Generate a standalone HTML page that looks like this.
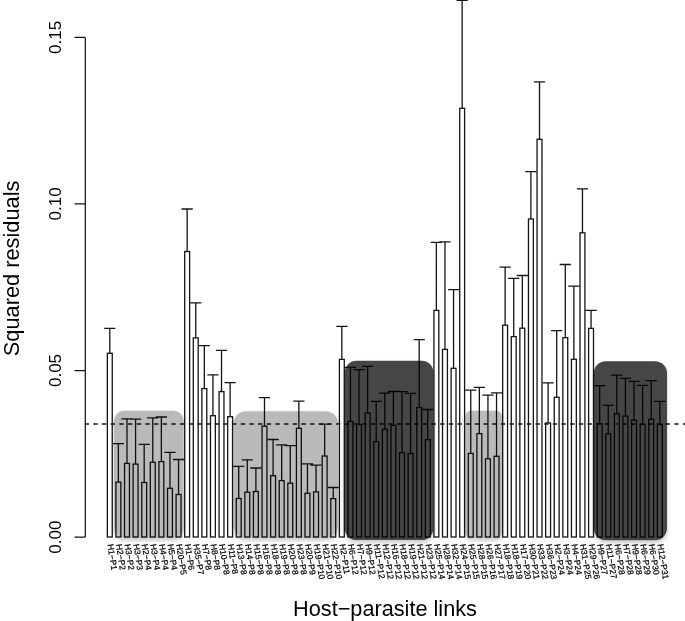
<!DOCTYPE html>
<html><head><meta charset="utf-8"><style>
html,body{margin:0;padding:0;background:#fff;}
body{width:685px;height:621px;overflow:hidden;}
svg{display:block;filter:grayscale(1);}
text{font-family:"Liberation Sans",sans-serif;fill:#000;}
</style></head><body>
<svg width="685" height="621" viewBox="0 0 685 621">
<defs>
<filter id="blur" x="-30%" y="-30%" width="160%" height="160%">
<feGaussianBlur stdDeviation="2"/>
</filter>
<filter id="soft" x="-10%" y="-10%" width="120%" height="120%">
<feGaussianBlur stdDeviation="0.45"/>
</filter>
</defs>
<rect width="685" height="621" fill="#fff"/>

<g fill="#fff" stroke="#141414" stroke-width="1.3">
<rect x="107.35" y="353.30" width="4.90" height="183.70"/>
<rect x="115.94" y="482.10" width="4.90" height="54.90"/>
<rect x="124.54" y="463.40" width="4.90" height="73.60"/>
<rect x="133.13" y="464.10" width="4.90" height="72.90"/>
<rect x="141.73" y="482.50" width="4.90" height="54.50"/>
<rect x="150.32" y="462.30" width="4.90" height="74.70"/>
<rect x="158.91" y="461.60" width="4.90" height="75.40"/>
<rect x="167.51" y="488.30" width="4.90" height="48.70"/>
<rect x="176.10" y="494.50" width="4.90" height="42.50"/>
<rect x="184.70" y="251.50" width="4.90" height="285.50"/>
<rect x="193.29" y="337.90" width="4.90" height="199.10"/>
<rect x="201.88" y="388.60" width="4.90" height="148.40"/>
<rect x="210.48" y="415.70" width="4.90" height="121.30"/>
<rect x="219.07" y="391.60" width="4.90" height="145.40"/>
<rect x="227.67" y="416.70" width="4.90" height="120.30"/>
<rect x="236.26" y="498.50" width="4.90" height="38.50"/>
<rect x="244.85" y="492.20" width="4.90" height="44.80"/>
<rect x="253.45" y="491.50" width="4.90" height="45.50"/>
<rect x="262.04" y="426.20" width="4.90" height="110.80"/>
<rect x="270.64" y="475.70" width="4.90" height="61.30"/>
<rect x="279.23" y="480.60" width="4.90" height="56.40"/>
<rect x="287.82" y="483.20" width="4.90" height="53.80"/>
<rect x="296.42" y="428.30" width="4.90" height="108.70"/>
<rect x="305.01" y="493.30" width="4.90" height="43.70"/>
<rect x="313.61" y="491.90" width="4.90" height="45.10"/>
<rect x="322.20" y="456.00" width="4.90" height="81.00"/>
<rect x="330.79" y="498.60" width="4.90" height="38.40"/>
<rect x="339.39" y="359.40" width="4.90" height="177.60"/>
<rect x="347.98" y="421.40" width="4.90" height="115.60"/>
<rect x="356.58" y="424.50" width="4.90" height="112.50"/>
<rect x="365.17" y="413.00" width="4.90" height="124.00"/>
<rect x="373.76" y="441.60" width="4.90" height="95.40"/>
<rect x="382.36" y="429.20" width="4.90" height="107.80"/>
<rect x="390.95" y="425.40" width="4.90" height="111.60"/>
<rect x="399.55" y="452.70" width="4.90" height="84.30"/>
<rect x="408.14" y="453.50" width="4.90" height="83.50"/>
<rect x="416.73" y="407.50" width="4.90" height="129.50"/>
<rect x="425.33" y="439.60" width="4.90" height="97.40"/>
<rect x="433.92" y="310.40" width="4.90" height="226.60"/>
<rect x="442.52" y="349.40" width="4.90" height="187.60"/>
<rect x="451.11" y="368.30" width="4.90" height="168.70"/>
<rect x="459.70" y="108.30" width="4.90" height="428.70"/>
<rect x="468.30" y="453.40" width="4.90" height="83.60"/>
<rect x="476.89" y="433.60" width="4.90" height="103.40"/>
<rect x="485.49" y="458.80" width="4.90" height="78.20"/>
<rect x="494.08" y="456.30" width="4.90" height="80.70"/>
<rect x="502.67" y="325.20" width="4.90" height="211.80"/>
<rect x="511.27" y="336.60" width="4.90" height="200.40"/>
<rect x="519.86" y="328.20" width="4.90" height="208.80"/>
<rect x="528.46" y="219.00" width="4.90" height="318.00"/>
<rect x="537.05" y="139.30" width="4.90" height="397.70"/>
<rect x="545.64" y="423.00" width="4.90" height="114.00"/>
<rect x="554.24" y="397.30" width="4.90" height="139.70"/>
<rect x="562.83" y="337.70" width="4.90" height="199.30"/>
<rect x="571.43" y="359.30" width="4.90" height="177.70"/>
<rect x="580.02" y="232.80" width="4.90" height="304.20"/>
<rect x="588.61" y="328.40" width="4.90" height="208.60"/>
<rect x="597.21" y="423.70" width="4.90" height="113.30"/>
<rect x="605.80" y="433.90" width="4.90" height="103.10"/>
<rect x="614.40" y="413.80" width="4.90" height="123.20"/>
<rect x="622.99" y="416.10" width="4.90" height="120.90"/>
<rect x="631.58" y="420.10" width="4.90" height="116.90"/>
<rect x="640.18" y="424.30" width="4.90" height="112.70"/>
<rect x="648.77" y="419.30" width="4.90" height="117.70"/>
<rect x="657.37" y="424.50" width="4.90" height="112.50"/>
</g>
<path d="M109.80 353.30V328.40M104.20 328.40H115.40M118.39 482.10V443.60M112.79 443.60H123.99M126.99 463.40V418.80M121.39 418.80H132.59M135.58 464.10V419.20M129.98 419.20H141.18M144.18 482.50V444.30M138.58 444.30H149.78M152.77 462.30V417.90M147.17 417.90H158.37M161.36 461.60V417.00M155.76 417.00H166.96M169.96 488.30V452.40M164.36 452.40H175.56M178.55 494.50V459.50M172.95 459.50H184.15M187.15 251.50V209.00M181.55 209.00H192.75M195.74 337.90V302.90M190.14 302.90H201.34M204.33 388.60V345.70M198.73 345.70H209.93M212.93 415.70V374.80M207.33 374.80H218.53M221.52 391.60V350.30M215.92 350.30H227.12M230.12 416.70V382.60M224.52 382.60H235.72M238.71 498.50V466.30M233.11 466.30H244.31M247.30 492.20V459.80M241.70 459.80H252.90M255.90 491.50V468.00M250.30 468.00H261.50M264.49 426.20V397.70M258.89 397.70H270.09M273.09 475.70V439.50M267.49 439.50H278.69M281.68 480.60V444.90M276.08 444.90H287.28M290.27 483.20V445.60M284.67 445.60H295.87M298.87 428.30V401.10M293.27 401.10H304.47M307.46 493.30V463.80M301.86 463.80H313.06M316.06 491.90V465.20M310.46 465.20H321.66M324.65 456.00V424.20M319.05 424.20H330.25M333.24 498.60V487.50M327.64 487.50H338.84M341.84 359.40V326.40M336.24 326.40H347.44M350.43 421.40V367.40M344.83 367.40H356.03M359.03 424.50V369.70M353.43 369.70H364.63M367.62 413.00V366.40M362.02 366.40H373.22M376.21 441.60V401.40M370.61 401.40H381.81M384.81 429.20V393.20M379.21 393.20H390.41M393.40 425.40V391.50M387.80 391.50H399.00M402.00 452.70V391.60M396.40 391.60H407.60M410.59 453.50V393.30M404.99 393.30H416.19M419.18 407.50V339.70M413.58 339.70H424.78M427.78 439.60V409.50M422.18 409.50H433.38M436.37 310.40V242.40M430.77 242.40H441.97M444.97 349.40V241.90M439.37 241.90H450.57M453.56 368.30V289.60M447.96 289.60H459.16M462.15 108.30V0.30M456.55 0.30H467.75M470.75 453.40V390.10M465.15 390.10H476.35M479.34 433.60V387.40M473.74 387.40H484.94M487.94 458.80V395.20M482.34 395.20H493.54M496.53 456.30V392.90M490.93 392.90H502.13M505.12 325.20V267.10M499.52 267.10H510.72M513.72 336.60V278.40M508.12 278.40H519.32M522.31 328.20V275.50M516.71 275.50H527.91M530.91 219.00V171.70M525.31 171.70H536.51M539.50 139.30V81.90M533.90 81.90H545.10M548.09 423.00V382.90M542.49 382.90H553.69M556.69 397.30V330.60M551.09 330.60H562.29M565.28 337.70V264.50M559.68 264.50H570.88M573.88 359.30V286.10M568.28 286.10H579.48M582.47 232.80V188.80M576.87 188.80H588.07M591.06 328.40V310.30M585.46 310.30H596.66M599.66 423.70V385.60M594.06 385.60H605.26M608.25 433.90V405.40M602.65 405.40H613.85M616.85 413.80V375.10M611.25 375.10H622.45M625.44 416.10V378.40M619.84 378.40H631.04M634.03 420.10V381.30M628.43 381.30H639.63M642.63 424.30V385.40M637.03 385.40H648.23M651.22 419.30V380.60M645.62 380.60H656.82M659.82 424.50V401.30M654.22 401.30H665.42" stroke="#141414" stroke-width="1.3" fill="none"/>
<path d="M84.7 424H685" stroke="#141414" stroke-width="1.3" stroke-dasharray="4.3 4.37" fill="none"/>
<path d="M85.3 37.4V537.1M74.5 37.4H85.3M74.5 203.9H85.3M74.5 370.5H85.3M74.5 537.1H85.3" stroke="#141414" stroke-width="1.25" fill="none"/>
<text transform="translate(60.6 537.1) rotate(-90)" font-size="17" text-anchor="middle">0.00</text>
<text transform="translate(60.6 370.5) rotate(-90)" font-size="17" text-anchor="middle">0.05</text>
<text transform="translate(60.6 203.9) rotate(-90)" font-size="17" text-anchor="middle">0.10</text>
<text transform="translate(60.6 37.4) rotate(-90)" font-size="17" text-anchor="middle">0.15</text>
<text transform="translate(18.9 268.4) rotate(-90)" font-size="21.8" text-anchor="middle">Squared residuals</text>
<text x="385" y="615.7" font-size="21.7" text-anchor="middle">Host−parasite links</text>
<text transform="translate(107.40 544.5) rotate(81)" font-size="8.5" stroke="#000" stroke-width="0.22">H1−P1</text>
<text transform="translate(115.99 544.5) rotate(81)" font-size="8.5" stroke="#000" stroke-width="0.22">H2−P2</text>
<text transform="translate(124.59 544.5) rotate(81)" font-size="8.5" stroke="#000" stroke-width="0.22">H3−P2</text>
<text transform="translate(133.18 544.5) rotate(81)" font-size="8.5" stroke="#000" stroke-width="0.22">H3−P3</text>
<text transform="translate(141.78 544.5) rotate(81)" font-size="8.5" stroke="#000" stroke-width="0.22">H2−P4</text>
<text transform="translate(150.37 544.5) rotate(81)" font-size="8.5" stroke="#000" stroke-width="0.22">H3−P4</text>
<text transform="translate(158.96 544.5) rotate(81)" font-size="8.5" stroke="#000" stroke-width="0.22">H4−P4</text>
<text transform="translate(167.56 544.5) rotate(81)" font-size="8.5" stroke="#000" stroke-width="0.22">H5−P4</text>
<text transform="translate(176.15 544.5) rotate(81)" font-size="8.5" stroke="#000" stroke-width="0.22">H20−P5</text>
<text transform="translate(184.75 544.5) rotate(81)" font-size="8.5" stroke="#000" stroke-width="0.22">H1−P6</text>
<text transform="translate(193.34 544.5) rotate(81)" font-size="8.5" stroke="#000" stroke-width="0.22">H35−P7</text>
<text transform="translate(201.93 544.5) rotate(81)" font-size="8.5" stroke="#000" stroke-width="0.22">H7−P8</text>
<text transform="translate(210.53 544.5) rotate(81)" font-size="8.5" stroke="#000" stroke-width="0.22">H8−P8</text>
<text transform="translate(219.12 544.5) rotate(81)" font-size="8.5" stroke="#000" stroke-width="0.22">H10−P8</text>
<text transform="translate(227.72 544.5) rotate(81)" font-size="8.5" stroke="#000" stroke-width="0.22">H11−P8</text>
<text transform="translate(236.31 544.5) rotate(81)" font-size="8.5" stroke="#000" stroke-width="0.22">H13−P8</text>
<text transform="translate(244.90 544.5) rotate(81)" font-size="8.5" stroke="#000" stroke-width="0.22">H14−P8</text>
<text transform="translate(253.50 544.5) rotate(81)" font-size="8.5" stroke="#000" stroke-width="0.22">H15−P8</text>
<text transform="translate(262.09 544.5) rotate(81)" font-size="8.5" stroke="#000" stroke-width="0.22">H16−P8</text>
<text transform="translate(270.69 544.5) rotate(81)" font-size="8.5" stroke="#000" stroke-width="0.22">H18−P8</text>
<text transform="translate(279.28 544.5) rotate(81)" font-size="8.5" stroke="#000" stroke-width="0.22">H19−P8</text>
<text transform="translate(287.87 544.5) rotate(81)" font-size="8.5" stroke="#000" stroke-width="0.22">H20−P8</text>
<text transform="translate(296.47 544.5) rotate(81)" font-size="8.5" stroke="#000" stroke-width="0.22">H23−P8</text>
<text transform="translate(305.06 544.5) rotate(81)" font-size="8.5" stroke="#000" stroke-width="0.22">H20−P9</text>
<text transform="translate(313.66 544.5) rotate(81)" font-size="8.5" stroke="#000" stroke-width="0.22">H19−P10</text>
<text transform="translate(322.25 544.5) rotate(81)" font-size="8.5" stroke="#000" stroke-width="0.22">H21−P10</text>
<text transform="translate(330.84 544.5) rotate(81)" font-size="8.5" stroke="#000" stroke-width="0.22">H22−P10</text>
<text transform="translate(339.44 544.5) rotate(81)" font-size="8.5" stroke="#000" stroke-width="0.22">H2−P11</text>
<text transform="translate(348.03 544.5) rotate(81)" font-size="8.5" stroke="#000" stroke-width="0.22">H6−P12</text>
<text transform="translate(356.63 544.5) rotate(81)" font-size="8.5" stroke="#000" stroke-width="0.22">H7−P12</text>
<text transform="translate(365.22 544.5) rotate(81)" font-size="8.5" stroke="#000" stroke-width="0.22">H9−P12</text>
<text transform="translate(373.81 544.5) rotate(81)" font-size="8.5" stroke="#000" stroke-width="0.22">H11−P12</text>
<text transform="translate(382.41 544.5) rotate(81)" font-size="8.5" stroke="#000" stroke-width="0.22">H12−P12</text>
<text transform="translate(391.00 544.5) rotate(81)" font-size="8.5" stroke="#000" stroke-width="0.22">H16−P12</text>
<text transform="translate(399.60 544.5) rotate(81)" font-size="8.5" stroke="#000" stroke-width="0.22">H18−P12</text>
<text transform="translate(408.19 544.5) rotate(81)" font-size="8.5" stroke="#000" stroke-width="0.22">H19−P12</text>
<text transform="translate(416.78 544.5) rotate(81)" font-size="8.5" stroke="#000" stroke-width="0.22">H21−P12</text>
<text transform="translate(425.38 544.5) rotate(81)" font-size="8.5" stroke="#000" stroke-width="0.22">H23−P12</text>
<text transform="translate(433.97 544.5) rotate(81)" font-size="8.5" stroke="#000" stroke-width="0.22">H25−P14</text>
<text transform="translate(442.57 544.5) rotate(81)" font-size="8.5" stroke="#000" stroke-width="0.22">H28−P14</text>
<text transform="translate(451.16 544.5) rotate(81)" font-size="8.5" stroke="#000" stroke-width="0.22">H32−P14</text>
<text transform="translate(459.75 544.5) rotate(81)" font-size="8.5" stroke="#000" stroke-width="0.22">H24−P15</text>
<text transform="translate(468.35 544.5) rotate(81)" font-size="8.5" stroke="#000" stroke-width="0.22">H25−P15</text>
<text transform="translate(476.94 544.5) rotate(81)" font-size="8.5" stroke="#000" stroke-width="0.22">H28−P15</text>
<text transform="translate(485.54 544.5) rotate(81)" font-size="8.5" stroke="#000" stroke-width="0.22">H26−P16</text>
<text transform="translate(494.13 544.5) rotate(81)" font-size="8.5" stroke="#000" stroke-width="0.22">H27−P17</text>
<text transform="translate(502.72 544.5) rotate(81)" font-size="8.5" stroke="#000" stroke-width="0.22">H18−P18</text>
<text transform="translate(511.32 544.5) rotate(81)" font-size="8.5" stroke="#000" stroke-width="0.22">H18−P19</text>
<text transform="translate(519.91 544.5) rotate(81)" font-size="8.5" stroke="#000" stroke-width="0.22">H17−P20</text>
<text transform="translate(528.51 544.5) rotate(81)" font-size="8.5" stroke="#000" stroke-width="0.22">H30−P21</text>
<text transform="translate(537.10 544.5) rotate(81)" font-size="8.5" stroke="#000" stroke-width="0.22">H33−P22</text>
<text transform="translate(545.69 544.5) rotate(81)" font-size="8.5" stroke="#000" stroke-width="0.22">H36−P23</text>
<text transform="translate(554.29 544.5) rotate(81)" font-size="8.5" stroke="#000" stroke-width="0.22">H2−P24</text>
<text transform="translate(562.88 544.5) rotate(81)" font-size="8.5" stroke="#000" stroke-width="0.22">H3−P24</text>
<text transform="translate(571.48 544.5) rotate(81)" font-size="8.5" stroke="#000" stroke-width="0.22">H4−P24</text>
<text transform="translate(580.07 544.5) rotate(81)" font-size="8.5" stroke="#000" stroke-width="0.22">H31−P25</text>
<text transform="translate(588.66 544.5) rotate(81)" font-size="8.5" stroke="#000" stroke-width="0.22">H29−P26</text>
<text transform="translate(597.26 544.5) rotate(81)" font-size="8.5" stroke="#000" stroke-width="0.22">H9−P27</text>
<text transform="translate(605.85 544.5) rotate(81)" font-size="8.5" stroke="#000" stroke-width="0.22">H11−P27</text>
<text transform="translate(614.45 544.5) rotate(81)" font-size="8.5" stroke="#000" stroke-width="0.22">H6−P28</text>
<text transform="translate(623.04 544.5) rotate(81)" font-size="8.5" stroke="#000" stroke-width="0.22">H7−P28</text>
<text transform="translate(631.63 544.5) rotate(81)" font-size="8.5" stroke="#000" stroke-width="0.22">H9−P28</text>
<text transform="translate(640.23 544.5) rotate(81)" font-size="8.5" stroke="#000" stroke-width="0.22">H6−P29</text>
<text transform="translate(648.82 544.5) rotate(81)" font-size="8.5" stroke="#000" stroke-width="0.22">H6−P30</text>
<text transform="translate(657.42 544.5) rotate(81)" font-size="8.5" stroke="#000" stroke-width="0.22">H12−P31</text>
<defs><mask id="shm" maskUnits="userSpaceOnUse" x="0" y="0" width="685" height="621"><rect width="685" height="621" fill="#fff"/><rect x="114.0" y="410.7" width="69.6" height="127.3" rx="10.0" fill="#000"/><rect x="233.6" y="411.2" width="104.4" height="126.8" rx="12.5" fill="#000"/><rect x="465.3" y="410.8" width="36.6" height="127.2" rx="6.0" fill="#000"/><rect x="344.8" y="360.8" width="88.6" height="179.2" rx="11.5" fill="#000"/><rect x="593.8" y="361.3" width="73.2" height="179.0" rx="12.0" fill="#000"/></mask></defs>
<g mask="url(#shm)"><g filter="url(#blur)" fill="rgba(0,0,0,0.22)">
<rect x="114.0" y="413.2" width="69.6" height="127.3" rx="10.0"/>
<rect x="233.6" y="413.7" width="104.4" height="126.8" rx="12.5"/>
<rect x="465.3" y="413.3" width="36.6" height="127.2" rx="6.0"/>
<rect x="344.8" y="363.3" width="88.6" height="179.2" rx="11.5"/>
<rect x="593.8" y="363.8" width="73.2" height="179.0" rx="12.0"/>
</g></g>
<rect x="114.0" y="410.7" width="69.6" height="127.3" rx="10.0" fill="rgba(0,0,0,0.27)" filter="url(#soft)"/>
<rect x="233.6" y="411.2" width="104.4" height="126.8" rx="12.5" fill="rgba(0,0,0,0.27)" filter="url(#soft)"/>
<rect x="465.3" y="410.8" width="36.6" height="127.2" rx="6.0" fill="rgba(0,0,0,0.27)" filter="url(#soft)"/>
<rect x="344.8" y="360.8" width="88.6" height="179.2" rx="11.5" fill="rgba(0,0,0,0.725)" filter="url(#soft)"/>
<rect x="593.8" y="361.3" width="73.2" height="179.0" rx="12.0" fill="rgba(0,0,0,0.725)" filter="url(#soft)"/>
</svg></body></html>
